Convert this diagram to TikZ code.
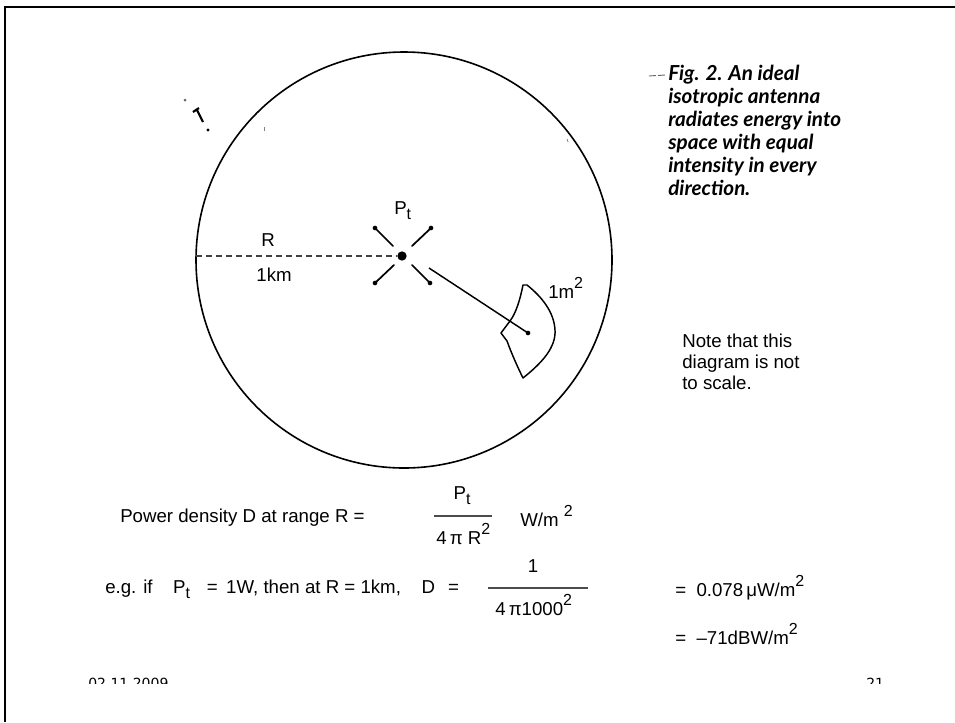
\documentclass[tikz,border=0pt]{standalone}
\usepackage{fontspec}
\setmainfont{Liberation Sans}
\newfontfamily\capfont{Lato}
\newfontfamily\footfont{DejaVu Sans}
\newcommand\Ptx{P\raisebox{-0.3em}{\fontsize{12}{12}\selectfont t}}
\newcommand\sqx{\raisebox{0.5em}{\fontsize{12}{12}\selectfont 2}}
\begin{document}
\begin{tikzpicture}[x=0.75pt,y=-0.75pt,
  txt/.style={inner sep=0pt, anchor=base west, font=\fontsize{14}{16}\selectfont},
  ctxt/.style={inner sep=0pt, anchor=base, font=\fontsize{14}{16}\selectfont},
  captext/.style={inner sep=0pt, anchor=base west, font=\capfont\bfseries\itshape\fontsize{15.5}{18}\selectfont},
  foottext/.style={inner sep=0pt, anchor=base west, font=\footfont\fontsize{10.5}{12}\selectfont},
  armline/.style={line width=1.3pt, line cap=round},
  armdot/.style={circle, fill, inner sep=0pt, minimum size=3.5pt},
  fracbar/.style={line width=0.9pt, black!70}]
\useasboundingbox (0,0) rectangle (955,722);
\fill[white] (0,0) rectangle (955,722);
% frame
\draw[line width=2.2pt] (5,722) -- (5,7) -- (955,7);
% sphere
\draw[line width=1.2pt] (404,260) circle (208);
% stray marks
\fill[black!60] (185,100) circle (1.5);
\draw[line width=1.6pt] (193,112) -- (199,108) (197,110) -- (203,122);
\fill (208,130) circle (1.6);
\draw[black!50, line width=0.6pt] (264,127) -- (264,131);
\draw[black!50, line width=0.6pt] (567,139) -- (568,142);
% antenna
\node[circle, fill, inner sep=0pt, minimum size=7pt] (ant) at (402,256) {};
\coordinate (left) at (196,256);
\draw[line width=1.4pt, black!75, dash pattern=on 4.5pt off 3pt] (left) -- (ant);
\node[ctxt] (R) at (268,246) {R};
\node[ctxt] (km) at (274,281) {1km};
\node[txt] (Pt) at (394,214) {\Ptx};
% arms
\coordinate (ulin) at (393,246); \node[armdot] (ul) at (375,228) {};
\coordinate (urin) at (412,246); \node[armdot] (ur) at (431,228) {};
\coordinate (llin) at (394,265); \node[armdot] (ll) at (375,283) {};
\coordinate (lrin) at (412,265); \node[armdot] (lr) at (430,283) {};
\draw[armline] (ulin) -- (ul.center);
\draw[armline] (urin) -- (ur.center);
\draw[armline] (llin) -- (ll.center);
\draw[armline] (lrin) -- (lr.center);
% ray to patch
\coordinate (rs) at (429,268);
\node[armdot] (pc) at (528,333) {};
\draw[line width=1.1pt] (rs) -- (pc.center);
% patch
\draw[line width=1.1pt, line join=round] (523,285) .. controls (520,300) and (516,313) .. (510,321)
  -- (501,333) -- (507,341)
  .. controls (511,352) and (517,366) .. (523,378)
  .. controls (543,362) and (556,347) .. (555,330)
  .. controls (554,312) and (542,297) .. (527,285) -- cycle;
\node[txt] (m2) at (548,298) {1m\sqx};
% caption
\draw[black!60, line width=0.7pt] (649,76) -- (656,75.5);
\draw[black!60, line width=0.7pt] (658,75.5) -- (665,75);
\foreach \t [count=\i] in {Fig. 2. An ideal, isotropic antenna, radiates energy into, space with equal, intensity in every, direction.}
  \node[captext] (cap\i) at (668,57+23*\i) {\t};
% note
\node[txt] (n1) at (682,347) {Note that this};
\node[txt] (n2) at (682,368) {diagram is not};
\node[txt] (n3) at (682,389) {to scale.};
% formula 1
\node[txt] (f1) at (120,522) {Power density D at range R =};
\node[ctxt] (f1n) at (462,499) {\Ptx};
\draw[fracbar] (434,516) -- (492,516);
\node[txt] (f1d) at (436,544) {4\,π R\sqx};
\node[txt] (f1u) at (520,526) {W/m \sqx};
% formula 2
\node[txt] (f2) at (105,593) {e.g. if\hspace{1.1em}\Ptx\hspace{0.9em}=\hspace{0.45em}1W, then at R = 1km,\hspace{1.1em}D\hspace{0.7em}=};
\node[ctxt] (f2n) at (533,572) {1};
\draw[fracbar] (488,588) -- (588,588);
\node[txt] (f2d) at (495,615) {4\,π1000\sqx};
\node[txt] (r1) at (675,596) {= \ 0.078\,μW/m\sqx};
\node[txt] (r2) at (675,644) {= \ –71dBW/m\sqx};
% footer (cut off)
\begin{scope}
\clip (0,0) rectangle (955,683);
\node[foottext] (date) at (88,688) {02.11.2009};
\node[foottext] (pg) at (866,688) {21};
\end{scope}
\end{tikzpicture}
\end{document}
